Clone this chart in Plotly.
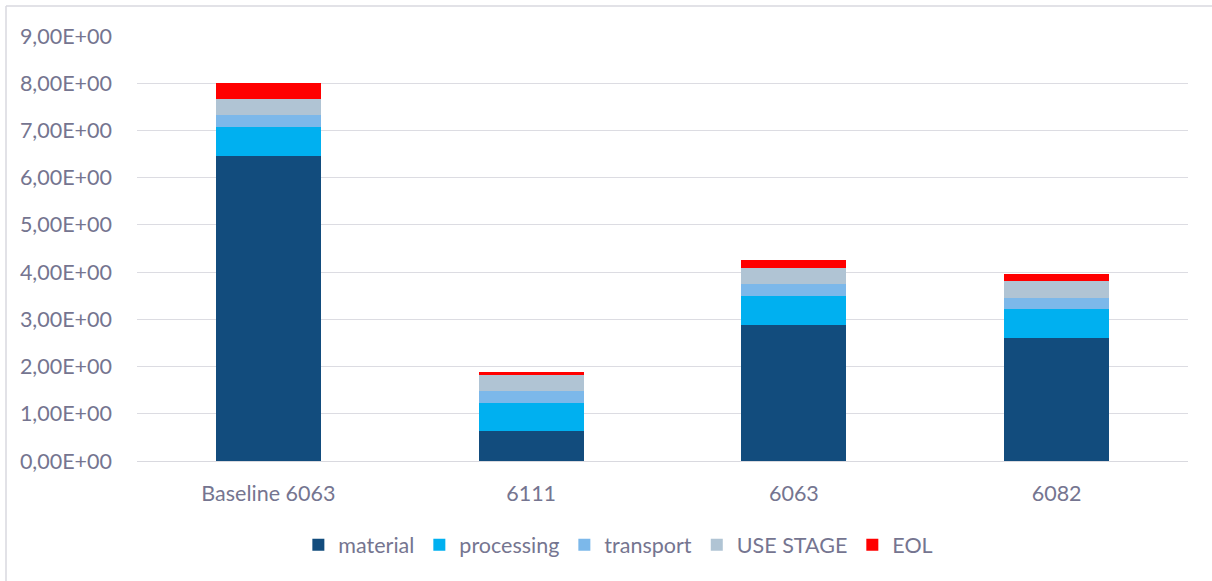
import plotly.graph_objects as go

# Impact per life-cycle stage for each alloy option
categories = ["Baseline 6063", "6111", "6063", "6082"]
material = [6.46, 0.625, 2.88, 2.60]
processing = [0.61, 0.595, 0.61, 0.61]
transport = [0.25, 0.26, 0.25, 0.24]
use_stage = [0.34, 0.35, 0.35, 0.36]
eol = [0.35, 0.045, 0.16, 0.15]

y_ticks = [0, 1, 2, 3, 4, 5, 6, 7, 8, 9]
y_tick_labels = ["%d,00E+00" % v for v in y_ticks]

series = [
    ("material", material, "#124c7d"),
    ("processing", processing, "#00b0f0"),
    ("transport", transport, "#7cb8ea"),
    ("USE STAGE", use_stage, "#b0c4d4"),
    ("EOL", eol, "#ff0000"),
]

text_color = "#757590"
font_family = "Lato, 'Open Sans', sans-serif"
fs = 21.5

fig = go.Figure()
for name, vals, color in series:
    fig.add_trace(go.Bar(
        name=name, x=categories, y=vals,
        marker=dict(color=color, line=dict(width=0)),
    ))

frame_x = (6 - 137) / 1051
frame_top = (425 + 30) / 425

fig.update_layout(
    barmode="stack",
    bargap=0.6,
    width=1212, height=581,
    margin=dict(l=137, r=24, t=36, b=120),
    paper_bgcolor="white",
    plot_bgcolor="white",
    font=dict(family=font_family, size=fs, color=text_color),
    showlegend=True,
    legend=dict(
        orientation="h", x=0.458, xanchor="center", y=-0.197, yanchor="middle",
        font=dict(size=fs, color=text_color),
        itemwidth=30, traceorder="normal",
    ),
    xaxis=dict(
        showgrid=False, showline=True, linecolor="#d9d9df", linewidth=1,
        ticks="", tickfont=dict(size=fs, color=text_color),
        ticklabelstandoff=13,
    ),
    yaxis=dict(
        range=[0, 9], tickvals=y_ticks, ticktext=y_tick_labels,
        showgrid=True, gridcolor="#dcdce2", gridwidth=1,
        zeroline=False, showline=False, ticks="",
        tickfont=dict(size=fs, color=text_color), ticklabelstandoff=24,
    ),
    shapes=[
        # chart frame (left and top edges)
        dict(type="line", xref="paper", yref="paper",
             x0=frame_x, x1=frame_x, y0=frame_top, y1=-130 / 425,
             line=dict(color="#d9d9df", width=1.5)),
        dict(type="line", xref="paper", yref="paper",
             x0=frame_x, x1=(1212 - 137) / 1051,
             y0=frame_top, y1=frame_top,
             line=dict(color="#d9d9df", width=1.5)),
    ],
)

fig.write_html("out.html")
